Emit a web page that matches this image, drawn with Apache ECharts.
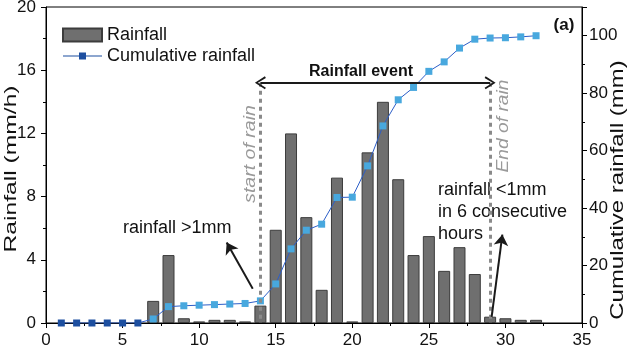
<!DOCTYPE html>
<html>
<head>
<meta charset="utf-8">
<script src="https://cdn.jsdelivr.net/npm/echarts@6/dist/echarts.min.js"></script>
<style>
html, body { margin: 0; padding: 0; background: #fff; }
#main { width: 632px; height: 348px; }
</style>
</head>
<body>
<div id="main"></div>
<script>
// hours 1..32
const hours = [1, 2, 3, 4, 5, 6, 7, 8, 9, 10, 11, 12, 13, 14, 15, 16, 17, 18, 19, 20, 21, 22, 23, 24, 25, 26, 27, 28, 29, 30, 31, 32]
// hourly rainfall (mm/h)
const rainfall = [0, 0, 0, 0, 0, 0, 1.4, 4.3, 0.3, 0.1, 0.2, 0.2, 0.1, 1.1, 5.9, 12.0, 6.7, 2.1, 9.2, 0.1, 10.8, 14.0, 9.1, 4.3, 5.5, 3.3, 4.8, 3.1, 0.4, 0.3, 0.2, 0.2]
// cumulative rainfall (mm)
const cumulative = [0, 0, 0, 0, 0, 0, 1.4, 5.7, 6.0, 6.2, 6.4, 6.6, 6.8, 7.7, 13.6, 25.8, 32.3, 34.4, 43.7, 43.8, 54.7, 68.6, 77.7, 82.0, 87.6, 90.9, 95.7, 98.8, 99.2, 99.3, 99.6, 100.0]
const rainStart = 14
const rainEnd = 29

const darkBlue = '#1d4fa0'
const lightBlue = '#48a8de'
// thin open chevron used for the "Rainfall event" double arrow
const chevron = 'path://M5,0 L10,8 L8.7,8.8 L5,2.4 L1.3,8.8 L0,8 Z'
// legend icon: thin line with a small square in the middle (box 39x13)
const lineIcon = 'path://M0,0 L0,0 Z M39,13 L39,13 Z M0,6 L16,6 L16,3 L23,3 L23,6 L39,6 L39,7 L23,7 L23,10 L16,10 L16,7 L0,7 Z'

const barData = hours.filter((h, i) => rainfall[i] > 0).map(h => [h, rainfall[h - 1]])
const lineData = hours.map((h, i) => ({
    value: [h, cumulative[i]],
    itemStyle: { color: i < 6 ? darkBlue : lightBlue }
}))

const axisBase = {
    axisLine: { show: true, lineStyle: { color: '#000', width: 1 } },
    axisTick: { show: true, inside: false, length: 5, lineStyle: { color: '#000' } },
    minorTick: { show: true, splitNumber: 2, length: 3, lineStyle: { color: '#000' } },
    splitLine: { show: false },
    axisLabel: { color: '#111', fontSize: 17, fontFamily: 'Liberation Sans' }
}

const chart = echarts.init(document.getElementById('main'))
chart.setOption({
    animation: false,
    textStyle: { fontFamily: 'Liberation Sans' },
    grid: { left: 46, right: 50, top: 7, bottom: 25, show: true, borderColor: '#000', borderWidth: 1, outerBoundsMode: 'none', containLabel: false },
    legend: {
        left: 62,
        top: 26,
        padding: 0,
        orient: 'vertical',
        itemGap: 3,
        itemWidth: 39,
        itemHeight: 13,
        textStyle: { fontSize: 18, color: '#111' },
        data: [
            { name: 'Rainfall', icon: 'rect' },
            { name: 'Cumulative rainfall', icon: lineIcon }
        ]
    },
    xAxis: Object.assign({}, axisBase, {
        type: 'value',
        min: 0,
        max: 35,
        interval: 5,
        axisLabel: Object.assign({}, axisBase.axisLabel, { margin: 9 })
    }),
    yAxis: [
        Object.assign({}, axisBase, {
            type: 'value',
            min: 0,
            max: 20,
            interval: 4,
            axisLabel: Object.assign({}, axisBase.axisLabel, { margin: 10 })
        }),
        Object.assign({}, axisBase, {
            type: 'value',
            min: 0,
            max: 110,
            interval: 20,
            position: 'right',
            axisLabel: Object.assign({}, axisBase.axisLabel, {
                margin: 7,
                formatter: v => (v > 100 ? '' : v)
            })
        })
    ],
    series: [
        {
            name: 'Rainfall',
            type: 'bar',
            yAxisIndex: 0,
            barWidth: 12,
            data: barData,
            itemStyle: { color: '#6f6f6f', borderColor: '#3c3c3c', borderWidth: 1 },
            markLine: {
                silent: true,
                symbol: 'none',
                label: { show: false },
                lineStyle: { color: '#8a8a8a', type: [4, 4], width: 3 },
                data: [
                    [{ coord: [rainStart, 15.2] }, { coord: [rainStart, 0] }],
                    [{ coord: [rainEnd, 15.2] }, { coord: [rainEnd, 0] }]
                ]
            },
            z: 2
        },
        {
            name: 'Cumulative rainfall',
            type: 'line',
            yAxisIndex: 1,
            data: lineData,
            symbol: 'rect',
            symbolSize: 7,
            itemStyle: { color: darkBlue },
            lineStyle: { color: '#2c5ec8', width: 1 },
            markLine: {
                silent: true,
                label: { show: false },
                lineStyle: { color: '#1a1a1a', type: 'solid', width: 2 },
                data: [
                    [{ coord: [rainStart, 83.6], symbol: chevron, symbolSize: [13, 11] }, { coord: [rainEnd, 83.6], symbol: chevron, symbolSize: [13, 11] }],
                    [{ coord: [13.5, 11.9], symbol: 'none' }, { coord: [11.8, 28], symbol: 'arrow', symbolSize: 11 }],
                    [{ coord: [29.1, 2.1], symbol: 'none' }, { coord: [29.8, 30.8], symbol: 'arrow', symbolSize: 11 }]
                ]
            },
            z: 3
        }
    ],
    graphic: [
        { type: 'text', x: 11, y: 169, rotation: Math.PI / 2, scaleX: 1.45, style: { text: 'Rainfall (mm/h)', font: '17px Liberation Sans', fill: '#111', align: 'center', verticalAlign: 'middle' } },
        { type: 'text', x: 618, y: 190, rotation: Math.PI / 2, scaleX: 1.33, style: { text: 'Cumulative rainfall (mm)', font: '18px Liberation Sans', fill: '#111', align: 'center', verticalAlign: 'middle' } },
        { type: 'text', x: 564, y: 25, style: { text: '(a)', font: 'bold 17px Liberation Sans', fill: '#111', align: 'center', verticalAlign: 'middle' } },
        { type: 'text', x: 361, y: 72, style: { text: 'Rainfall event', font: 'bold 16px Liberation Sans', fill: '#111', align: 'center', verticalAlign: 'middle' } },
        { type: 'text', x: 250, y: 154, rotation: Math.PI / 2, scaleX: 1.15, style: { text: 'start of rain', font: 'italic 17px Liberation Sans', fill: '#9a9a9a', align: 'center', verticalAlign: 'middle' } },
        { type: 'text', x: 503, y: 126, rotation: Math.PI / 2, scaleX: 1.13, style: { text: 'End of rain', font: 'italic 17px Liberation Sans', fill: '#9a9a9a', align: 'center', verticalAlign: 'middle' } },
        { type: 'text', x: 123, y: 228, style: { text: 'rainfall >1mm', font: '18px Liberation Sans', fill: '#111', verticalAlign: 'middle' } },
        { type: 'text', x: 438, y: 179, style: { text: 'rainfall <1mm\nin 6 consecutive\nhours', font: '18px Liberation Sans', fill: '#111', lineHeight: 22 } }
    ]
})
</script>
</body>
</html>
